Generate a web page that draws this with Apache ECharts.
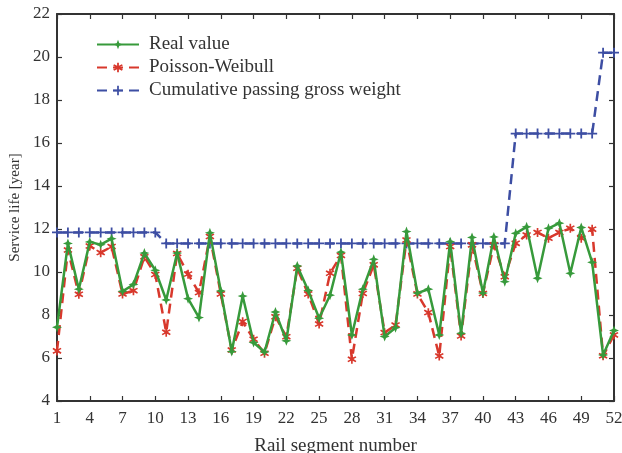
<!DOCTYPE html>
<html>
<head>
<meta charset="utf-8">
<script src="https://cdn.jsdelivr.net/npm/echarts@6/dist/echarts.min.js"></script>
<style>html,body{margin:0;padding:0;background:#fff;}#c{width:622px;height:453px;}</style>
</head>
<body>
<div id="c"></div>
<script>
var segments = [];
for (var s = 1; s <= 52; s++) segments.push(String(s));

var realValue = [7.43, 11.33, 9.2, 11.4, 11.27, 11.55, 9.1, 9.42, 10.88, 10.08,
  8.7, 10.88, 8.76, 7.88, 11.82, 9.12, 6.3, 8.88, 6.72, 6.28,
  8.14, 6.8, 10.28, 9.14, 7.85, 8.92, 10.92, 7.07, 9.2, 10.59,
  7.0, 7.41, 11.88, 9.02, 9.2, 7.07, 11.41, 7.15, 11.61, 9.02,
  11.63, 9.55, 11.8, 12.1, 9.71, 12.03, 12.27, 9.94, 12.07, 10.45,
  6.14, 7.28];
var poissonWeibull = [6.33, 11.02, 8.96, 11.21, 10.9, 11.18, 8.98, 9.13, 10.71, 9.88,
  7.2, 10.86, 9.9, 9.04, 11.65, 8.98, 6.37, 7.69, 6.87, 6.22,
  7.92, 6.99, 10.17, 8.98, 7.58, 9.94, 10.77, 5.94, 9.0, 10.33,
  7.18, 7.53, 11.49, 8.98, 8.11, 6.09, 11.18, 7.02, 11.26, 9.0,
  11.26, 9.78, 11.33, 11.72, 11.84, 11.57, 11.84, 12.03, 11.57, 11.99,
  6.1, 7.07];
var cumulativeWeight = [11.84, 11.84, 11.84, 11.84, 11.84, 11.84, 11.84, 11.84, 11.84, 11.84,
  11.33, 11.33, 11.33, 11.33, 11.33, 11.33, 11.33, 11.33, 11.33, 11.33,
  11.33, 11.33, 11.33, 11.33, 11.33, 11.33, 11.33, 11.33, 11.33, 11.33,
  11.33, 11.33, 11.33, 11.33, 11.33, 11.33, 11.33, 11.33, 11.33, 11.33,
  11.33, 11.33, 16.44, 16.44, 16.44, 16.44, 16.44, 16.44, 16.44, 16.44,
  20.2, 20.2];
var seriesNames = ['Real value', 'Poisson-Weibull', 'Cumulative passing gross weight'];
var yTicks = {min: 4, max: 22, step: 2};

var FONT = 'Liberation Serif';
var TXT = '#333333';
var AX = '#333333';
var starPath = 'path://M0,-5L1.4,-1.4L5,0L1.4,1.4L0,5L-1.4,1.4L-5,0L-1.4,-1.4Z';
var plusPath = 'path://M-0.9,-5H0.9V-0.9H5V0.9H0.9V5H-0.9V0.9H-5V-0.9H-0.9Z';
var astPath = 'path://M-0.8,-5H0.8V-1.9L3.5,-3.4L4.3,-2L1.6,-0.4L4.3,1.9L3.5,3.3L0.8,1.7V5H-0.8V1.7L-3.5,3.3L-4.3,1.9L-1.6,0.3L-4.3,-2L-3.5,-3.4L-0.8,-1.9Z';

var chart = echarts.init(document.getElementById('c'), null, {renderer: 'canvas'});
var xBase = {
  type: 'category', data: segments, boundaryGap: false,
  axisLine: {onZero: false, lineStyle: {color: AX, width: 2}},
  axisTick: {inside: true, length: 5, interval: 2, lineStyle: {color: AX, width: 1.2}},
  splitLine: {show: false}
};
var yBase = {
  type: 'value', min: yTicks.min, max: yTicks.max, interval: yTicks.step,
  axisLine: {show: true, lineStyle: {color: AX, width: 2}},
  axisTick: {show: true, inside: true, length: 5, lineStyle: {color: AX, width: 1.2}},
  splitLine: {show: false}
};
chart.setOption({
  animation: false,
  backgroundColor: '#fff',
  grid: {left: 57, right: 8, top: 14, bottom: 52, containLabel: false, outerBoundsMode: 'none'},
  legend: {
    orient: 'vertical', left: 91, top: 30, itemWidth: 42, itemHeight: 12, itemGap: 4,
    textStyle: {fontFamily: FONT, fontSize: 19, color: TXT, padding: [0, 0, 0, 5]},
    data: seriesNames
  },
  xAxis: [
    Object.assign({}, xBase, {
      position: 'bottom',
      name: 'Rail segment number', nameLocation: 'middle', nameGap: 36,
      nameTextStyle: {fontFamily: FONT, fontSize: 19, color: TXT},
      axisLabel: {interval: 2, margin: 9, fontFamily: FONT, fontSize: 17, color: TXT}
    }),
    Object.assign({}, xBase, {position: 'top', axisLabel: {show: false}})
  ],
  yAxis: [
    Object.assign({}, yBase, {
      position: 'left',
      name: 'Service life [year]', nameLocation: 'middle', nameGap: 31,
      nameTextStyle: {fontFamily: FONT, fontSize: 15, color: TXT},
      axisLabel: {margin: 7, fontFamily: FONT, fontSize: 17, color: TXT}
    }),
    Object.assign({}, yBase, {position: 'right', axisLabel: {show: false}})
  ],
  series: [
    {
      name: seriesNames[2], type: 'line', data: cumulativeWeight, z: 2,
      symbol: plusPath, symbolSize: 10, showSymbol: true, showAllSymbol: true,
      itemStyle: {color: '#3d4ea3'},
      lineStyle: {color: '#3d4ea3', width: 2.5, type: [10, 6]}
    },
    {
      name: seriesNames[1], type: 'line', data: poissonWeibull, z: 3,
      symbol: astPath, symbolSize: 9, showSymbol: true, showAllSymbol: true,
      itemStyle: {color: '#d8382c'},
      lineStyle: {color: '#d8382c', width: 2.5, type: [10, 6]}
    },
    {
      name: seriesNames[0], type: 'line', data: realValue, z: 4,
      symbol: starPath, symbolSize: 10, showSymbol: true, showAllSymbol: true,
      itemStyle: {color: '#379a3b'},
      lineStyle: {color: '#379a3b', width: 2.5}
    }
  ]
});
</script>
</body>
</html>
